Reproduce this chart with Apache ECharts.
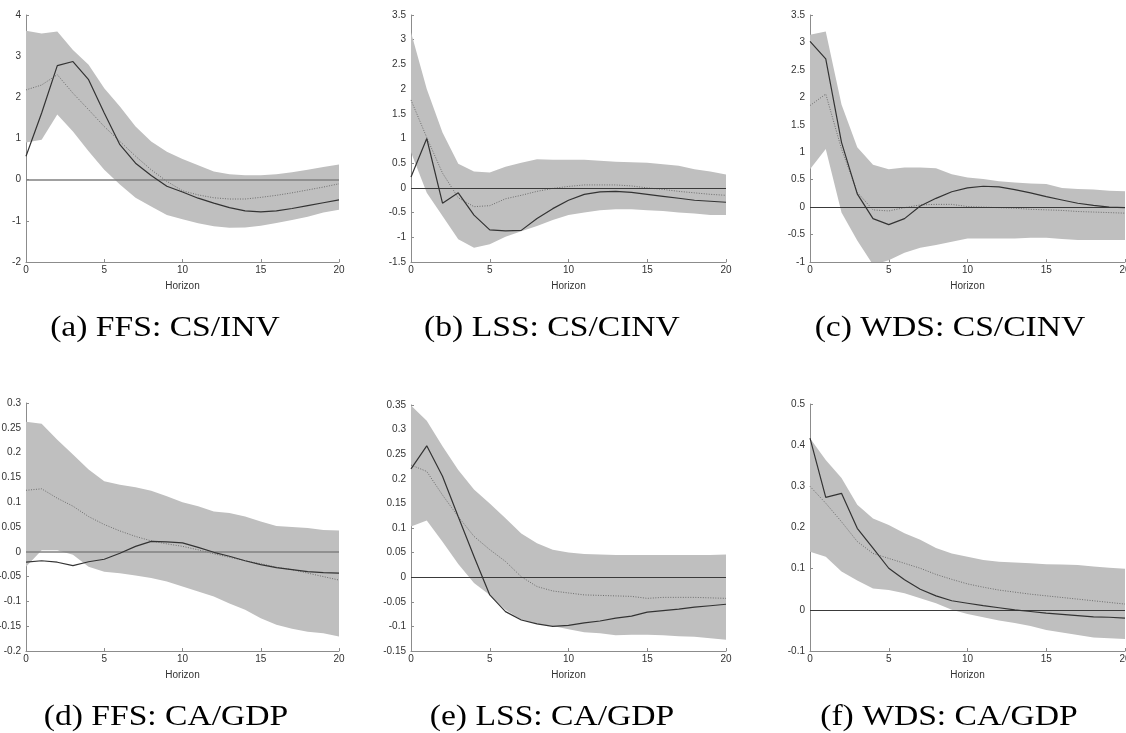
<!DOCTYPE html>
<html>
<head>
<meta charset="utf-8">
<script src="https://cdn.jsdelivr.net/npm/echarts@6/dist/echarts.min.js"></script>
<style>
html,body{margin:0;padding:0;background:#fff;}
#chart{width:1126px;height:733px;}
</style>
</head>
<body>
<div id="chart"></div>
<script>
// Horizon (x values)
const horizon = [0,1,2,3,4,5,6,7,8,9,10,11,12,13,14,15,16,17,18,19,20];

// (a) FFS: CS/INV
const aUpper  = [3.62,3.55,3.6,3.15,2.79,2.22,1.78,1.29,0.93,0.68,0.5,0.35,0.2,0.13,0.11,0.11,0.13,0.18,0.24,0.31,0.37];
const aLower  = [0.9,0.97,1.58,1.17,0.69,0.24,-0.12,-0.44,-0.65,-0.86,-0.96,-1.06,-1.13,-1.17,-1.16,-1.12,-1.05,-0.98,-0.9,-0.8,-0.73];
const aSolid  = [0.57,1.62,2.77,2.87,2.43,1.62,0.85,0.4,0.1,-0.16,-0.3,-0.45,-0.57,-0.68,-0.76,-0.78,-0.76,-0.7,-0.63,-0.56,-0.49];
const aDotted = [2.18,2.3,2.55,2.1,1.7,1.29,0.93,0.57,0.24,-0.04,-0.27,-0.37,-0.44,-0.47,-0.47,-0.43,-0.38,-0.32,-0.25,-0.18,-0.1];

// (b) LSS: CS/CINV
const bUpper  = [3.15,2.0,1.12,0.49,0.33,0.31,0.43,0.51,0.58,0.57,0.57,0.57,0.55,0.53,0.52,0.51,0.48,0.45,0.38,0.33,0.27];
const bLower  = [0.72,-0.1,-0.57,-1.04,-1.21,-1.14,-0.99,-0.88,-0.77,-0.65,-0.55,-0.5,-0.45,-0.43,-0.43,-0.45,-0.47,-0.5,-0.52,-0.55,-0.55];
const bSolid  = [0.22,1.0,-0.31,-0.1,-0.55,-0.85,-0.87,-0.86,-0.62,-0.42,-0.25,-0.13,-0.08,-0.07,-0.09,-0.13,-0.17,-0.21,-0.25,-0.27,-0.29];
const bDotted = [1.78,1.02,0.3,-0.2,-0.38,-0.36,-0.22,-0.15,-0.07,-0.01,0.03,0.06,0.06,0.06,0.04,0.0,-0.03,-0.07,-0.1,-0.13,-0.15];

// (c) WDS: CS/CINV
const cUpper  = [3.14,3.2,1.87,1.09,0.77,0.69,0.72,0.72,0.71,0.6,0.54,0.51,0.47,0.45,0.43,0.42,0.35,0.33,0.32,0.3,0.29];
const cLower  = [0.69,1.06,-0.1,-0.61,-1.05,-0.97,-0.83,-0.74,-0.69,-0.63,-0.57,-0.57,-0.57,-0.57,-0.56,-0.56,-0.58,-0.6,-0.6,-0.6,-0.6];
const cSolid  = [3.02,2.7,1.18,0.24,-0.21,-0.32,-0.21,0.02,0.16,0.28,0.35,0.38,0.37,0.32,0.26,0.19,0.13,0.07,0.03,0.0,-0.01];
const cDotted = [1.85,2.06,1.06,0.27,-0.05,-0.07,-0.01,0.04,0.05,0.05,0.01,0.0,-0.01,-0.02,-0.04,-0.05,-0.06,-0.08,-0.09,-0.1,-0.11];

// (d) FFS: CA/GDP
const dUpper  = [0.262,0.258,0.226,0.196,0.166,0.142,0.135,0.13,0.123,0.112,0.1,0.092,0.081,0.078,0.071,0.061,0.052,0.05,0.048,0.044,0.043];
const dLower  = [-0.03,0.003,0.003,-0.006,-0.03,-0.04,-0.043,-0.048,-0.053,-0.06,-0.07,-0.08,-0.09,-0.104,-0.117,-0.134,-0.147,-0.155,-0.161,-0.164,-0.171];
const dSolid  = [-0.021,-0.018,-0.021,-0.028,-0.02,-0.015,-0.003,0.011,0.021,0.02,0.018,0.009,-0.001,-0.009,-0.018,-0.026,-0.032,-0.036,-0.04,-0.042,-0.043];
const dDotted = [0.124,0.127,0.108,0.092,0.071,0.055,0.042,0.031,0.022,0.016,0.011,0.004,-0.004,-0.011,-0.018,-0.024,-0.031,-0.036,-0.043,-0.05,-0.057];

// (e) LSS: CA/GDP
const eUpper  = [0.349,0.318,0.266,0.218,0.178,0.15,0.12,0.089,0.069,0.056,0.05,0.047,0.046,0.045,0.045,0.045,0.045,0.045,0.045,0.045,0.046];
const eLower  = [0.103,0.115,0.072,0.027,-0.012,-0.036,-0.066,-0.087,-0.095,-0.099,-0.106,-0.112,-0.114,-0.118,-0.117,-0.117,-0.118,-0.12,-0.121,-0.124,-0.127];
const eSolid  = [0.22,0.267,0.205,0.123,0.042,-0.036,-0.07,-0.087,-0.095,-0.1,-0.098,-0.093,-0.089,-0.083,-0.079,-0.071,-0.068,-0.065,-0.061,-0.058,-0.055];
const eDotted = [0.228,0.215,0.167,0.123,0.083,0.056,0.032,0.001,-0.019,-0.028,-0.032,-0.036,-0.037,-0.038,-0.039,-0.043,-0.041,-0.041,-0.041,-0.042,-0.043];

// (f) WDS: CA/GDP
const fUpper  = [0.417,0.364,0.32,0.255,0.222,0.206,0.186,0.17,0.15,0.137,0.129,0.121,0.117,0.115,0.113,0.111,0.11,0.109,0.105,0.102,0.1];
const fLower  = [0.141,0.129,0.093,0.071,0.052,0.048,0.04,0.028,0.016,0.0,-0.01,-0.018,-0.026,-0.032,-0.039,-0.049,-0.055,-0.061,-0.067,-0.069,-0.071];
const fSolid  = [0.417,0.273,0.283,0.198,0.15,0.101,0.073,0.05,0.034,0.022,0.016,0.01,0.005,0.0,-0.004,-0.008,-0.011,-0.014,-0.017,-0.018,-0.02];
const fDotted = [0.3,0.259,0.214,0.166,0.137,0.125,0.113,0.101,0.086,0.074,0.063,0.055,0.048,0.043,0.038,0.034,0.03,0.026,0.022,0.018,0.014];

// Panel captions
const captions = ['(a) FFS: CS/INV','(b) LSS: CS/CINV','(c) WDS: CS/CINV','(d) FFS: CA/GDP','(e) LSS: CA/GDP','(f) WDS: CA/GDP'];

// Y-axis ranges [min, max, interval]
const yRanges = [[-2,4,1],[-1.5,3.5,0.5],[-1,3.5,0.5],[-0.2,0.3,0.05],[-0.15,0.35,0.05],[-0.1,0.5,0.1]];
const xRange = [0,20,5];

const panels = [
  {upper:aUpper, lower:aLower, solid:aSolid, dotted:aDotted},
  {upper:bUpper, lower:bLower, solid:bSolid, dotted:bDotted},
  {upper:cUpper, lower:cLower, solid:cSolid, dotted:cDotted},
  {upper:dUpper, lower:dLower, solid:dSolid, dotted:dDotted},
  {upper:eUpper, lower:eLower, solid:eSolid, dotted:eDotted},
  {upper:fUpper, lower:fLower, solid:fSolid, dotted:fDotted}
];

// Layout (pixels)
const gridBoxes = [
  {left:26, top:15, width:313, height:247},
  {left:411, top:15, width:315, height:247},
  {left:810, top:15, width:315, height:247},
  {left:26, top:403, width:313, height:248},
  {left:411, top:405, width:315, height:246},
  {left:810, top:404, width:315, height:247}
];
const captionPos = [[165,328],[552,328],[950,328],[166,717],[552,717],[949,717]];
const zeroColors = ['#808080','#3a3a3a','#3a3a3a','#808080','#3a3a3a','#3a3a3a'];
const zeroWidths = [1.6,1,1,1.6,1,1];

const pair = arr => arr.map((v,i) => [horizon[i], v]);

const grids = [], xAxes = [], yAxes = [], series = [], graphics = [];
panels.forEach((p, k) => {
  grids.push(Object.assign({containLabel:false, outerBoundsMode:'none'}, gridBoxes[k]));
  xAxes.push({
    type:'value', gridIndex:k, min:xRange[0], max:xRange[1], interval:xRange[2],
    name:'Horizon', nameLocation:'middle', nameGap:19,
    nameTextStyle:{color:'#333', fontSize:10, fontFamily:'Liberation Sans'},
    axisLine:{show:true, onZero:false, lineStyle:{color:'#8c8c8c', width:1}},
    axisTick:{show:true, inside:true, length:3, lineStyle:{color:'#8c8c8c'}},
    axisLabel:{color:'#333', fontSize:10, fontFamily:'Liberation Sans', margin:3},
    splitLine:{show:false}
  });
  yAxes.push({
    type:'value', gridIndex:k, min:yRanges[k][0], max:yRanges[k][1], interval:yRanges[k][2],
    axisLine:{show:true, onZero:false, lineStyle:{color:'#8c8c8c', width:1}},
    axisTick:{show:true, inside:true, length:3, lineStyle:{color:'#8c8c8c'}},
    axisLabel:{color:'#333', fontSize:10, fontFamily:'Liberation Sans', margin:5},
    splitLine:{show:false}
  });
  // confidence band: rows [h, upper, lower], drawn as one polygon via the axes' scales
  const bandData = horizon.map((h,i) => [h, p.upper[i], p.lower[i]]);
  series.push({
    type:'custom', xAxisIndex:k, yAxisIndex:k, data:bandData, silent:true, z:1,
    encode:{x:0, y:[1,2]},
    renderItem:function(params, api){
      if (params.dataIndex !== 0) return null;
      const top = [], bot = [];
      for (let i = 0; i < bandData.length; i++) {
        top.push(api.coord([bandData[i][0], bandData[i][1]]));
        bot.push(api.coord([bandData[i][0], bandData[i][2]]));
      }
      const pts = top.concat(bot.reverse());
      const cs = params.coordSys;
      return {
        type:'group',
        children:[{
          type:'polygon',
          shape:{points:pts},
          style:{fill:'#bfbfbf', stroke:null}
        }],
        clipPath:{type:'rect', shape:{x:cs.x, y:cs.y, width:cs.width, height:cs.height}}
      };
    }
  });
  series.push({
    type:'line', xAxisIndex:k, yAxisIndex:k, data:pair(p.dotted), symbol:'none', z:4,
    lineStyle:{color:'#6e6e6e', width:1, type:[1,1.5]},
    markLine:{silent:true, symbol:'none', label:{show:false}, animation:false,
      lineStyle:{color:zeroColors[k], width:zeroWidths[k], type:'solid'},
      data:[{yAxis:0}]}
  });
  series.push({
    type:'line', xAxisIndex:k, yAxisIndex:k, data:pair(p.solid), symbol:'none', z:5,
    lineStyle:{color:'#333333', width:1.2}
  });
  graphics.push({
    type:'text', x:captionPos[k][0], y:captionPos[k][1], scaleX:1.12,
    style:{text:captions[k], fill:'#000', font:'30px "Liberation Serif"', textAlign:'center', textVerticalAlign:'middle'}
  });
});

const chart = echarts.init(document.getElementById('chart'), null, {renderer:'canvas'});
chart.setOption({
  animation:false,
  backgroundColor:'#ffffff',
  grid:grids, xAxis:xAxes, yAxis:yAxes, series:series, graphic:graphics
});
</script>
</body>
</html>
